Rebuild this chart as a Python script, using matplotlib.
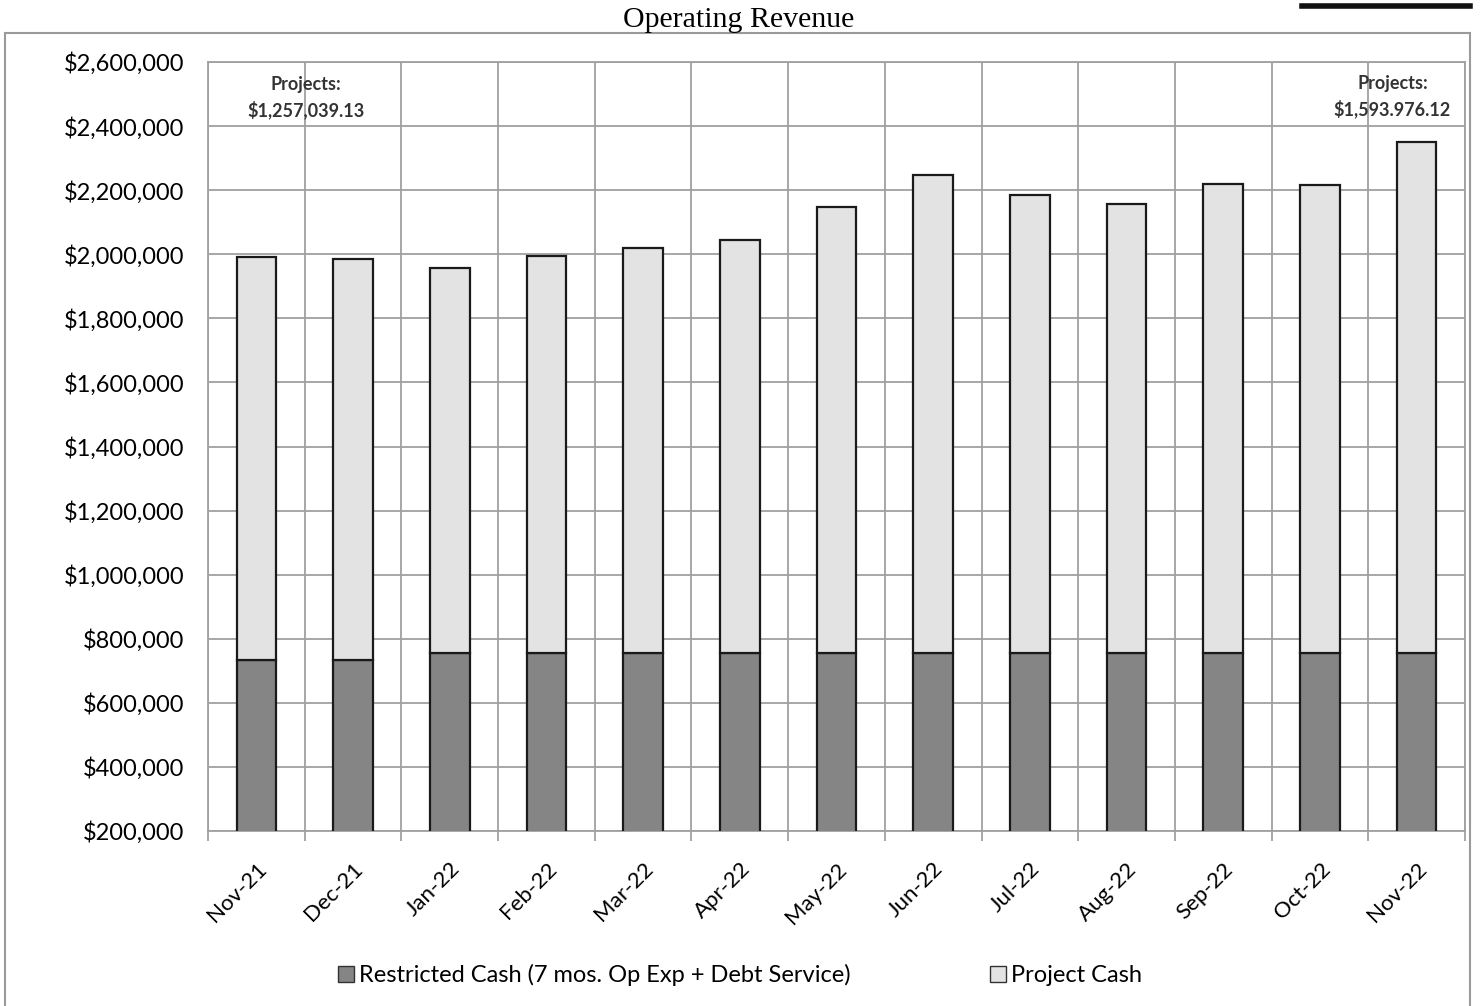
import numpy as np
import matplotlib
matplotlib.use("Agg")
import matplotlib.pyplot as plt
from matplotlib.patches import Rectangle, Patch
from matplotlib.lines import Line2D
from matplotlib.ticker import FuncFormatter, MultipleLocator

# data
months = ["Nov-21", "Dec-21", "Jan-22", "Feb-22", "Mar-22", "Apr-22", "May-22",
          "Jun-22", "Jul-22", "Aug-22", "Sep-22", "Oct-22", "Nov-22"]
restricted = [734000, 734000, 756000, 756000, 756000, 756000, 755000,
              755000, 755000, 755000, 755000, 755000, 755000]
project = [1257039, 1251000, 1201000, 1238000, 1263000, 1289000, 1392000,
           1492000, 1430000, 1402000, 1464000, 1461000, 1593976]

label_restricted = "Restricted Cash (7 mos. Op Exp + Debt Service)"
label_project = "Project Cash"
note_left = "Projects:\n$1,257,039.13"
note_right = "Projects:\n$1,593.976.12"

plt.rcParams['font.family'] = ['Lato', 'DejaVu Sans']

fig = plt.figure(figsize=(14.81, 10.06), dpi=100)
ax = fig.add_axes([208 / 1481, 1 - 831 / 1006, (1465 - 208) / 1481, (831 - 62) / 1006])

x = np.arange(len(months))
w = 0.41
ax.bar(x, restricted, w, color="#858585", edgecolor="#1a1a1a", linewidth=1.6, zorder=3,
       label=label_restricted)
ax.bar(x, project, w, bottom=restricted, color="#e3e3e3", edgecolor="#1a1a1a", linewidth=1.6,
       zorder=3, label=label_project)

ax.set_ylim(200000, 2600000)
ax.set_xlim(-0.5, len(months) - 0.5)
ax.yaxis.set_major_locator(MultipleLocator(200000))
ax.yaxis.set_major_formatter(FuncFormatter(lambda v, p: f"${v:,.0f}"))
ax.set_xticks(x)
ax.set_xticklabels(months, rotation=45, ha="right", rotation_mode="anchor", fontsize=16)
ax.set_xticks(np.arange(-0.5, len(months)), minor=True)
ax.tick_params(axis="x", which="major", length=0, pad=20)
ax.tick_params(axis="x", which="minor", length=7, color="#999999", width=1.2)
ax.tick_params(axis="y", length=0, labelsize=17, pad=17)

ax.grid(True, axis="y", color="#a0a0a0", linewidth=1.3, zorder=0)
ax.grid(True, axis="x", which="minor", color="#a0a0a0", linewidth=1.3, zorder=0)
for s in ax.spines.values():
    s.set_color("#a0a0a0")
    s.set_linewidth(1.3)

ax.text(0.51, 2488000, note_left, ha="center", va="center", fontsize=13,
        fontweight="bold", linespacing=1.5, color="#333333", zorder=4)
ax.text(11.75, 2492000, note_right, ha="center", va="center", fontsize=13,
        fontweight="bold", linespacing=1.5, color="#333333", zorder=4)

fig.text(739 / 1481, 1 - 20 / 1006, "Operating Revenue", ha="center", va="center",
         fontsize=21.5, family="Liberation Serif")

# outer chart frame and header rule
fig.add_artist(Rectangle((5 / 1481, -0.01), 1465 / 1481, 1 - 33 / 1006 + 0.01,
                         transform=fig.transFigure, fill=False, edgecolor="#9a9a9a", linewidth=1.5))
fig.add_artist(Line2D([1302 / 1481, 1470 / 1481], [1 - 6 / 1006, 1 - 6 / 1006],
                      transform=fig.transFigure, color="#111111", linewidth=4))

handles = [Patch(facecolor="#858585", edgecolor="#333333", label=label_restricted),
           Patch(facecolor="#e3e3e3", edgecolor="#333333", label=label_project)]
fig.legend(handles=handles, loc="center", bbox_to_anchor=(740 / 1481, 1 - 975 / 1006), ncol=2,
           frameon=False, fontsize=17, handlelength=0.7, handleheight=0.7, handletextpad=0.2,
           columnspacing=5.9)

fig.savefig("out.png", dpi=100)
